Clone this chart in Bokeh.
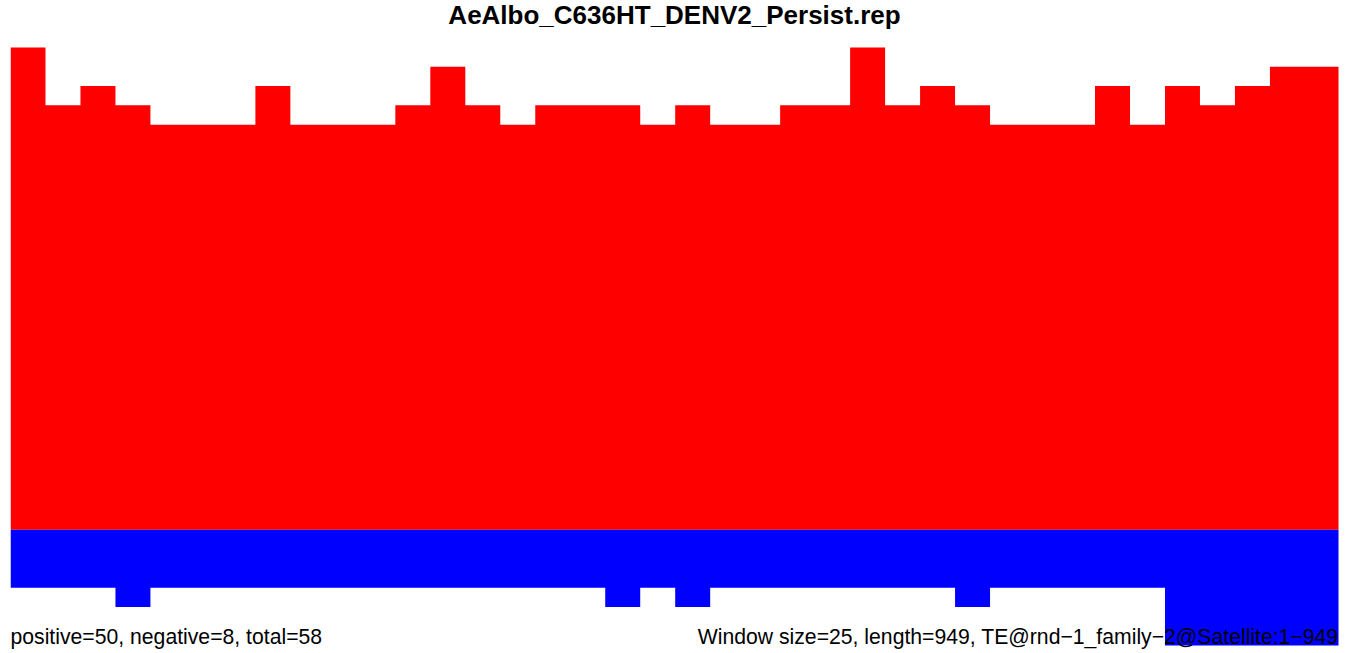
from bokeh.plotting import figure
from bokeh.models import Range1d, Label
from bokeh.embed import file_html
from bokeh.resources import INLINE

title_text = "AeAlbo_C636HT_DENV2_Persist.rep"
left_note = "positive=50, negative=8, total=58"
right_note = "Window size=25, length=949, TE@rnd\u22121_family\u22122@Satellite:1\u2212949"

window_size = 25
seq_length = 949

positive = [25, 22, 23, 22, 21, 21, 21, 23, 21, 21,
            21, 22, 24, 22, 21, 22, 22, 22, 21, 22,
            21, 21, 22, 22, 25, 22, 23, 22, 21, 21,
            21, 23, 21, 23, 22, 23, 24, 24]
negative = [3, 3, 3, 4, 3, 3, 3, 3, 3, 3,
            3, 3, 3, 3, 3, 3, 3, 4, 3, 4,
            3, 3, 3, 3, 3, 3, 3, 4, 3, 3,
            3, 3, 3, 6, 6, 6, 6, 6]

W, H = 1346, 653
frame_top_px, frame_bottom_px = 47, 645  # where ymax / ymin sit on the page

ymax = max(positive)
ymin = -max(negative)
units_per_px = (ymax - ymin) / (frame_bottom_px - frame_top_px)
y_end = ymax + frame_top_px * units_per_px
y_start = ymin - (H - frame_bottom_px) * units_per_px


def step_outline(values, sign):
    xs, ys = [0], [0]
    for i, v in enumerate(values):
        xs += [i * window_size, (i + 1) * window_size]
        ys += [sign * v, sign * v]
    xs.append(len(values) * window_size)
    ys.append(0)
    return xs, ys


p = figure(width=W, height=H, output_backend="svg", toolbar_location=None,
           x_range=Range1d(0, seq_length), y_range=Range1d(y_start, y_end),
           x_axis_location=None, y_axis_location=None,
           min_border_left=10, min_border_right=8, min_border_top=0, min_border_bottom=0)
p.grid.visible = False
p.outline_line_color = None
p.background_fill_color = "white"
p.border_fill_color = "white"

rx, ry = step_outline(positive, 1)
bx, by = step_outline(negative, -1)
p.patch(rx, ry, fill_color="#FF0000", line_color=None)
p.patch(bx, by, fill_color="#0000FF", line_color=None)

p.add_layout(Label(x=seq_length / 2, y=ymax, text=title_text, text_align="center",
                   text_baseline="alphabetic", y_offset=33,
                   text_font="Liberation Sans", text_font_style="bold",
                   text_font_size="26px", text_color="black"))
p.add_layout(Label(x=0, y=ymin, text=left_note, text_align="left",
                   text_baseline="alphabetic", y_offset=9,
                   text_font="Liberation Sans", text_font_size="21.2px", text_color="black"))
p.add_layout(Label(x=seq_length, y=ymin, text=right_note, text_align="right",
                   text_baseline="alphabetic", y_offset=9,
                   text_font="Liberation Sans", text_font_size="21.2px", text_color="black"))

open("out.html", "w").write(file_html(p, INLINE))
